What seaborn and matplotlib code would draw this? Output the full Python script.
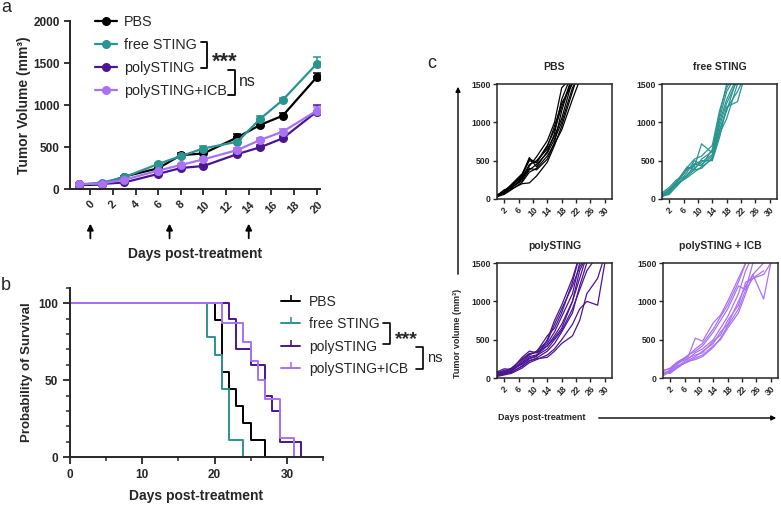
import numpy as np
import pandas as pd
import matplotlib
matplotlib.use("Agg")
import matplotlib.pyplot as plt
import seaborn as sns
from matplotlib.lines import Line2D

# ---- data ----
groups = ["PBS", "free STING", "polySTING", "polySTING+ICB"]
colors = ["#000000", "#2a9490", "#4a1590", "#a872f2"]

# a: mean tumor volume (mm3) and SEM
days_a = [-1, 1, 3, 6, 8, 10, 13, 15, 17, 20]
pbs_mean = [45, 55, 148, 247, 403, 423, 615, 762, 872, 1329]
free_mean = [55, 75, 140, 298, 392, 482, 563, 833, 1059, 1488]
poly_mean = [55, 60, 78, 180, 250, 274, 416, 496, 603, 920]
icb_mean = [55, 65, 110, 219, 286, 353, 464, 583, 682, 930]
pbs_sem = [5, 5, 12, 15, 20, 25, 40, 35, 30, 50]
free_sem = [5, 8, 10, 15, 20, 25, 35, 40, 30, 80]
poly_sem = [5, 5, 8, 10, 15, 20, 25, 30, 30, 75]
icb_sem = [5, 5, 8, 10, 15, 20, 25, 30, 30, 50]
arrow_days = [0, 7, 14]

# b: survival (%)
pbs_t = [0, 20, 21, 22, 23, 24, 25, 27]
pbs_s = [100, 88.9, 55.6, 44.4, 33.3, 22.2, 11.1, 0]
free_t = [0, 19, 20, 21, 22, 24]
free_s = [100, 77.8, 66.7, 44.4, 11.1, 0]
poly_t = [0, 22, 23, 25, 27, 28, 29, 32]
poly_s = [100, 90, 70, 60, 40, 30, 10, 0]
icb_t = [0, 21, 24, 25, 26, 27, 29, 31]
icb_s = [100, 87.5, 75, 62.5, 50, 37.5, 12.5, 0]

# c: individual mice
days_c = [0, 2, 4, 7, 9, 11, 14, 16, 18, 21, 23, 25, 28, 30]
pbs_mice = [
    [30, 90, 160, 300, 520, 480, 700, 900, 1200, 1600],
    [40, 110, 180, 280, 450, 500, 650, 820, 1050, 1550],
    [50, 70, 130, 200, 210, 300, 480, 700, 950, 1400, 1700],
    [25, 100, 170, 320, 540, 420, 620, 850, 1300, 1650],
    [35, 80, 150, 240, 380, 450, 600, 780, 1000, 1450, 1600],
    [45, 120, 140, 260, 430, 550, 760, 1000, 1450, 1600],
    [30, 60, 120, 220, 350, 400, 560, 720, 900, 1300, 1550],
    [55, 95, 190, 330, 500, 470, 680, 950, 1250, 1500, 1700],
    [40, 85, 145, 270, 400, 380, 520, 740, 1150, 1600],
]
free_mice = [
    [40, 100, 200, 400, 420, 720, 600, 1000, 1300, 1600],
    [60, 130, 180, 350, 500, 450, 560, 900, 1150, 1600],
    [30, 80, 210, 420, 380, 520, 620, 1050, 1400, 1650],
    [80, 150, 250, 300, 450, 500, 500, 800, 1200, 1270, 1600],
    [50, 70, 160, 320, 400, 480, 580, 950, 1250, 1550],
    [20, 110, 220, 380, 460, 430, 650, 1100, 1500, 1700],
    [70, 90, 190, 280, 350, 420, 520, 850, 1050, 1500],
    [45, 120, 230, 410, 520, 560, 700, 1150, 1450, 1700],
    [35, 60, 170, 300, 380, 400, 540, 880, 1180, 1400, 1600],
]
poly_mice = [
    [60, 100, 120, 250, 320, 330, 450, 600, 800, 1100, 1500],
    [40, 60, 90, 200, 280, 300, 420, 550, 700, 1000, 1300, 1600],
    [80, 120, 110, 180, 250, 280, 500, 750, 950, 1300, 1600],
    [30, 50, 80, 150, 220, 260, 350, 450, 600, 850, 1200, 1500],
    [50, 70, 100, 220, 300, 350, 480, 700, 900, 1200, 1450, 1600],
    [20, 40, 60, 130, 200, 240, 300, 380, 500, 700, 900, 1000, 950, 1500],
    [70, 90, 110, 270, 350, 330, 420, 520, 650, 1000, 1400, 1600],
    [40, 60, 70, 160, 230, 250, 270, 350, 450, 550, 750, 1100, 1300, 1600],
    [55, 80, 130, 240, 310, 340, 550, 650, 850, 1250, 1600],
    [35, 55, 95, 190, 260, 290, 380, 500, 620, 900, 1150, 1400, 1600],
]
icb_mice = [
    [100, 120, 200, 280, 520, 480, 720, 820, 1000, 1300, 1500],
    [60, 90, 150, 250, 330, 380, 500, 650, 800, 1100, 1400, 1600],
    [40, 110, 180, 300, 350, 420, 600, 750, 900, 1200, 1150, 1500],
    [80, 70, 130, 230, 280, 350, 450, 600, 700, 1000, 1200, 1350, 1030, 1500],
    [50, 100, 190, 260, 300, 330, 480, 560, 750, 950, 1250, 1300, 1400],
    [30, 80, 160, 210, 260, 300, 420, 500, 650, 850, 1100, 1350, 1500],
    [90, 130, 210, 290, 380, 450, 640, 800, 950, 1250, 1500],
    [70, 60, 140, 220, 240, 280, 400, 520, 680, 900, 1150, 1300, 1350, 1500],
]
c_titles = ["PBS", "free STING", "polySTING", "polySTING + ICB"]

# ---- style ----
sns.set_style("ticks")
plt.rcParams["font.family"] = ["Liberation Sans", "DejaVu Sans"]
plt.rcParams["axes.linewidth"] = 1.4
pal = dict(zip(groups, colors))

W, H = 781, 507
fig = plt.figure(figsize=(W / 100, H / 100), dpi=100)


def px_axes(left, top, right, bottom):
    return fig.add_axes([left / W, 1 - bottom / H, (right - left) / W, (bottom - top) / H])


# ---- a ----
ax_a = px_axes(70, 21, 320, 189)
means = [pbs_mean, free_mean, poly_mean, icb_mean]
sems = [pbs_sem, free_sem, poly_sem, icb_sem]
dfa = pd.concat([pd.DataFrame({"day": days_a, "vol": m, "group": g}) for g, m in zip(groups, means)])
for g, m, s in zip(groups, means, sems):
    ax_a.errorbar(days_a, m, yerr=[np.zeros(len(s)), s], fmt="none", ecolor=pal[g],
                  elinewidth=1.1, capsize=3, capthick=1.1)
sns.lineplot(data=dfa, x="day", y="vol", hue="group", palette=pal, marker="o", markersize=6.5,
             markeredgewidth=0, lw=1.6, legend=False, ax=ax_a)
ax_a.set_xlim(-1.8, 20.3)
ax_a.set_ylim(0, 2000)
ax_a.set_xticks(range(0, 21, 2))
ax_a.set_yticks(range(0, 2001, 500))
ax_a.set_xticklabels(range(0, 21, 2), rotation=45, ha="center", fontweight="bold", fontsize=8)
ax_a.set_yticklabels(range(0, 2001, 500), fontweight="bold", fontsize=8.5)
ax_a.tick_params(length=4, width=1.3)
sns.despine(ax=ax_a)
ax_a.set_xlabel("Days post-treatment", fontweight="bold", fontsize=10)
ax_a.xaxis.set_label_coords(0.50, -0.345)
ax_a.set_ylabel("Tumor Volume (mm³)", fontweight="bold", fontsize=10)
ax_a.yaxis.set_label_coords(-0.155, 0.5)
for d in arrow_days:
    ax_a.annotate("", xy=(d, -0.19), xycoords=("data", "axes fraction"),
                  xytext=(d, -0.31), textcoords=("data", "axes fraction"),
                  arrowprops=dict(arrowstyle="-|>", color="black", lw=1.3, mutation_scale=9),
                  annotation_clip=False)
handles_a = [Line2D([], [], color=c, marker="o", ms=6.5, mew=0, lw=1.6) for c in colors]
ax_a.legend(handles_a, groups, loc="upper left", bbox_to_anchor=(95 / W, 1 - 15 / H),
            bbox_transform=fig.transFigure, frameon=False, fontsize=10.4, handlelength=1.5,
            handletextpad=0.5, labelspacing=0.62, borderpad=0, borderaxespad=0)

# ---- b ----
ax_b = px_axes(70, 288, 323, 457)
dfb = pd.concat([pd.DataFrame({"day": t, "surv": s, "group": g}) for g, t, s in
                 zip(groups, [pbs_t, free_t, poly_t, icb_t], [pbs_s, free_s, poly_s, icb_s])])
sns.lineplot(data=dfb, x="day", y="surv", hue="group", palette=pal, estimator=None,
             drawstyle="steps-post", lw=1.4, legend=False, ax=ax_b)
ax_b.set_xlim(0, 35)
ax_b.set_ylim(0, 110)
ax_b.set_xticks([0, 10, 20, 30])
ax_b.set_xticks([5, 15, 25, 35], minor=True)
ax_b.set_yticks([0, 50, 100])
ax_b.set_yticks([10, 20, 30, 40, 60, 70, 80, 90, 110], minor=True)
ax_b.set_xticklabels([0, 10, 20, 30], fontweight="bold", fontsize=8.5)
ax_b.set_yticklabels([0, 50, 100], fontweight="bold", fontsize=8.5)
ax_b.tick_params(which="major", length=5, width=1.3)
ax_b.tick_params(which="minor", length=3, width=1.1)
sns.despine(ax=ax_b)
ax_b.set_xlabel("Days post-treatment", fontweight="bold", fontsize=10)
ax_b.xaxis.set_label_coords(0.50, -0.19)
ax_b.set_ylabel("Probability of Survival", fontweight="bold", fontsize=9.5)
ax_b.yaxis.set_label_coords(-0.145, 0.5)
handles_b = [Line2D([], [], color=c, marker=2, ms=4, mew=1.2, lw=1.4) for c in colors]
ax_b.legend(handles_b, groups, loc="upper left", bbox_to_anchor=(281 / W, 1 - 295 / H),
            bbox_transform=fig.transFigure, frameon=False, fontsize=10, handlelength=1.4,
            handletextpad=0.6, labelspacing=0.6, borderpad=0, borderaxespad=0)

# ---- c ----
boxes = [(497, 84, 612, 199), (662, 84, 777, 199), (497, 263, 612, 378), (663, 263, 778, 378)]
for box, g, title, mice in zip(boxes, groups, c_titles, [pbs_mice, free_mice, poly_mice, icb_mice]):
    ax = px_axes(*box)
    dfc = pd.concat([pd.DataFrame({"day": days_c[:len(v)], "vol": v, "mouse": i})
                     for i, v in enumerate(mice)])
    sns.lineplot(data=dfc, x="day", y="vol", units="mouse", estimator=None, color=pal[g],
                 lw=0.9, legend=False, ax=ax)
    ax.set_xlim(0, 32)
    ax.set_ylim(0, 1500)
    ax.set_xticks(range(2, 31, 4))
    ax.set_yticks([0, 500, 1000, 1500])
    ax.set_xticklabels(range(2, 31, 4), rotation=45, ha="center", fontsize=6.2, fontweight="bold")
    ax.set_yticklabels([0, 500, 1000, 1500], fontsize=6.2, fontweight="bold")
    ax.tick_params(length=3, width=1, pad=1.5)
    for sp in ax.spines.values():
        sp.set_linewidth(1.1)
    ax.set_xlabel("")
    ax.set_ylabel("")
    ax.set_title(title, fontsize=7.5, fontweight="bold", pad=10)

# ---- annotations ----
ov = fig.add_axes([0, 0, 1, 1])
ov.set_xlim(0, W)
ov.set_ylim(H, 0)
ov.axis("off")
ov.patch.set_visible(False)
ov.text(1, 8, "a", fontsize=13, va="center")
ov.text(1, 285, "b", fontsize=13, va="center")
ov.text(427, 64, "c", fontsize=13, va="center")
# brackets a
ov.plot([201, 207, 207, 201], [42, 42, 68, 68], color="black", lw=1.3)
ov.text(212, 62, "***", fontsize=15.5, fontweight="bold", va="center")
ov.plot([228, 235, 235, 228], [70, 70, 95, 95], color="black", lw=1.3)
ov.text(239, 82, "ns", fontsize=11.5, va="center")
# brackets b
ov.plot([383, 390, 390, 383], [323, 323, 344, 344], color="black", lw=1.2)
ov.text(395, 340, "***", fontsize=14, fontweight="bold", va="center")
ov.plot([416, 423, 423, 416], [347, 347, 369, 369], color="black", lw=1.2)
ov.text(427, 358, "ns", fontsize=10.5, va="center")
# c axis labels
ov.annotate("", xy=(458, 84), xytext=(458, 277),
            arrowprops=dict(arrowstyle="-|>", color="black", lw=1, mutation_scale=7))
ov.text(458, 333, "Tumor volume (mm³)", rotation=90, ha="center", va="center",
        fontsize=6.5, fontweight="bold")
ov.text(542, 418, "Days post-treatment", ha="center", va="center", fontsize=6.5, fontweight="bold")
ov.annotate("", xy=(779, 418), xytext=(596, 418),
            arrowprops=dict(arrowstyle="-|>", color="black", lw=1, mutation_scale=7))

fig.savefig("out.png", dpi=100)
